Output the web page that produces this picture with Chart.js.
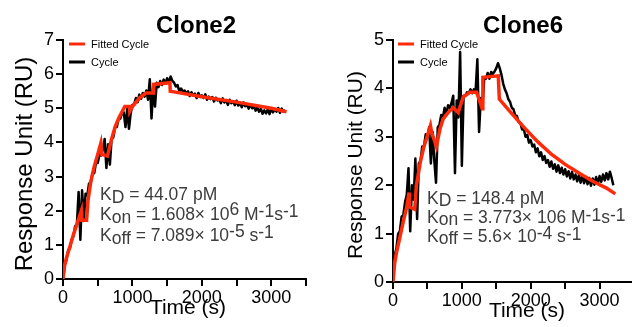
<!DOCTYPE html>
<html>
<head>
<meta charset="utf-8">
<title>Clone2 / Clone6 binding kinetics</title>
<script src="https://cdn.jsdelivr.net/npm/chart.js"></script>
<style>
    html, body { margin: 0; padding: 0; background: #fff; overflow: hidden; }
    body { width: 632px; height: 327px; position: relative; }
    canvas { position: absolute; top: 0; }
    #clone2Chart { left: 0; }
    #clone6Chart { left: 316px; }
</style>
</head>
<body>
<canvas id="clone2Chart" width="316" height="327"></canvas>
<canvas id="clone6Chart" width="330" height="327"></canvas>

<script>
// raw sensorgram is sampled every 25 s, starting at t = 0
const CYCLE_STEP = 25;

const clone2Cycle = [
    0, 0.4, 0.55, 0.85, 0.9, 1.15, 1.25, 1.55, 1.6, 2.55, 1.15, 2.6, 1.7, 2.5, 2.45, 2.8,
    2.8, 3.1, 3.1, 3.4, 3.4, 3.65, 3.62, 3.8, 4.1, 3.25, 3.95, 3.35, 4.1, 4.15, 4.45, 4.45,
    4.68, 4.7, 4.86, 4.88, 4.45, 4.98, 4.4, 4.85, 5.1, 5.12, 5.3, 5.18, 5.4, 5.28, 5.45, 5.34,
    5.52, 5.25, 5.85, 4.7, 5.65, 5.05, 5.75, 5.62, 5.8, 5.68, 5.84, 5.72, 5.88, 5.76, 5.93, 5.8,
    5.75, 5.64, 5.68, 5.5, 5.58, 5.49, 5.52, 5.44, 5.5, 5.36, 5.47, 5.38, 5.43, 5.3, 5.45, 5.33,
    5.38, 5.3, 5.41, 5.25, 5.34, 5.27, 5.33, 5.2, 5.31, 5.23, 5.26, 5.15, 5.29, 5.17, 5.24, 5.1,
    5.25, 5.15, 5.2, 5.09, 5.22, 5.08, 5.16, 5.03, 5.17, 5.06, 5.1, 4.99, 5.12, 5.0, 5.05, 4.93,
    5.03, 4.9, 4.98, 4.84, 4.94, 4.85, 4.97, 4.83, 4.99, 4.88, 4.98, 4.9, 5.01, 4.87, 4.99, 4.9,
    4.95
];
const clone2FitTime = [0, 25, 50, 100, 150, 200, 264, 270, 340, 360, 400, 450, 500, 545, 560, 640,
    700, 750, 800, 850, 890, 960, 965, 1000, 1100, 1200, 1300, 1305, 1540, 1545, 1600, 2000, 2500, 3000, 3220];
const clone2Fit = [0, 0.42, 0.62, 0.95, 1.3, 1.6, 2.0, 1.72, 1.72, 2.3, 2.85, 3.3, 3.65, 3.98, 3.65, 3.6,
    4.1, 4.45, 4.7, 4.9, 5.05, 5.05, 4.92, 5.05, 5.3, 5.45, 5.45, 5.7, 5.75, 5.5, 5.48, 5.34, 5.18, 5.0, 4.9];

const clone6Cycle = [
    0, 0.55, 0.7, 1.0, 1.05, 1.35, 1.38, 1.65, 1.8, 2.35, 1.05, 2.0, 1.7, 2.55, 1.3, 2.45,
    2.5, 2.8, 2.8, 3.05, 3.0, 3.2, 2.45, 3.1, 2.5, 2.05, 3.2, 3.25, 3.45, 3.4, 3.6, 3.45,
    3.65, 3.6, 3.7, 3.85, 2.25, 3.75, 3.4, 4.75, 2.4, 3.85, 3.85, 3.92, 3.9, 3.98, 3.9, 3.98,
    3.95, 4.6, 3.1, 3.8, 3.6, 4.22, 4.2, 4.32, 4.2, 4.34, 4.3, 4.35, 4.42, 4.52, 4.42, 4.28,
    4.1, 3.98, 3.9, 3.78, 3.72, 3.6, 3.57, 3.44, 3.43, 3.3, 3.28, 3.15, 3.16, 3.0, 3.04, 2.88,
    2.93, 2.8, 2.84, 2.68, 2.76, 2.6, 2.68, 2.52, 2.6, 2.46, 2.52, 2.38, 2.49, 2.34, 2.43, 2.28,
    2.41, 2.25, 2.36, 2.22, 2.33, 2.18, 2.29, 2.14, 2.27, 2.12, 2.22, 2.08, 2.21, 2.05, 2.19, 2.04,
    2.17, 2.02, 2.15, 1.99, 2.14, 2.01, 2.17, 2.03, 2.19, 2.07, 2.22, 2.1, 2.25, 2.12, 2.28, 2.15,
    2.0
];
const clone6FitTime = [0, 25, 50, 100, 150, 200, 233, 240, 316, 340, 400, 450, 500, 544, 560, 631,
    680, 728, 800, 874, 947, 1019, 1117, 1214, 1296, 1305, 1529, 1544, 1700, 1900, 2100, 2300, 2500,
    2700, 2900, 3100, 3228];
const clone6Fit = [0, 0.4, 0.6, 0.92, 1.25, 1.55, 1.85, 1.55, 1.5, 2.0, 2.5, 2.8, 3.02, 3.23, 3.1, 2.8,
    3.15, 3.37, 3.5, 3.6, 3.5, 3.82, 3.92, 3.92, 3.58, 4.23, 4.26, 3.78, 3.52, 3.2, 2.9, 2.64, 2.43,
    2.25, 2.08, 1.94, 1.82];

const xLabelTicks = [0, 1000, 2000, 3000];

const FONT = '"Liberation Sans", Arial, Helvetica, sans-serif';
const FIT_RED = '#ff2a0a';

// titles, axis titles, legend and the rate constants are painted here
const panelText = {
    id: 'panelText',
    afterDraw(chart, args, o) {
        const ctx = chart.ctx;
        ctx.save();
        ctx.fillStyle = '#000';
        ctx.textBaseline = 'alphabetic';

        ctx.textAlign = 'center';
        ctx.font = 'bold 24px ' + FONT;
        ctx.fillText(o.title, o.titleX, 33);

        ctx.font = o.xTitleSize + 'px ' + FONT;
        ctx.fillText('Time (s)', o.xTitleX, o.xTitleY);

        ctx.save();
        ctx.translate(o.yTitleX, o.yTitleY);
        ctx.rotate(-Math.PI / 2);
        ctx.font = o.yTitleSize + 'px ' + FONT;
        ctx.fillText('Response Unit (RU)', 0, 0);
        ctx.restore();

        // legend inside the plot, top left
        ctx.textAlign = 'left';
        ctx.font = '11px ' + FONT;
        chart.data.datasets.forEach((ds, i) => {
            const y = 44 + i * 18;
            ctx.strokeStyle = ds.borderColor;
            ctx.lineWidth = 3;
            ctx.beginPath();
            ctx.moveTo(o.legendX, y);
            ctx.lineTo(o.legendX + 16, y);
            ctx.stroke();
            ctx.fillText(ds.label, o.legendX + 22, y + 4);
        });

        // kinetic constants with sub/superscripts
        ctx.fillStyle = '#3c3c3c';
        o.constants.forEach((line, i) => {
            let x = o.constX;
            const y = o.constY[i];
            line.forEach(part => {
                ctx.font = (part.s || 17.5) + 'px ' + FONT;
                ctx.fillText(part.t, x, y + (part.dy || 0));
                x += ctx.measureText(part.t).width;
            });
        });
        ctx.restore();
    }
};

function makeChart(id, cycle, fitTime, fit, yMax, padRight, xAxisH, yAxisW, text) {
    return new Chart(document.getElementById(id), {
        type: 'line',
        data: {
            datasets: [{
                label: 'Fitted Cycle',
                data: fitTime.map((t, i) => ({ x: t, y: fit[i] })),
                borderColor: FIT_RED,
                borderWidth: 3.5,
                pointRadius: 0,
                tension: 0,
                order: 0
            }, {
                label: 'Cycle',
                data: cycle.map((v, i) => ({ x: i * CYCLE_STEP, y: v })),
                borderColor: '#000',
                borderWidth: 2.5,
                borderJoinStyle: 'round',
                pointRadius: 0,
                tension: 0,
                order: 1
            }]
        },
        options: {
            responsive: false,
            animation: false,
            layout: { padding: { top: 40, right: padRight, left: 0, bottom: 0 } },
            plugins: {
                legend: { display: false },
                tooltip: { enabled: false },
                panelText: text
            },
            scales: {
                x: {
                    type: 'linear',
                    min: 0,
                    max: 3500,
                    afterFit: s => { s.height = xAxisH; },
                    afterBuildTicks: s => {
                        s.ticks = [0, 500, 1000, 1500, 2000, 2500, 3000, 3500].map(v => ({ value: v }));
                    },
                    ticks: {
                        autoSkip: false,
                        maxRotation: 0,
                        color: '#000',
                        padding: 1,
                        font: { family: FONT, size: 18 },
                        callback: v => xLabelTicks.includes(v) ? String(v) : ''
                    },
                    grid: { drawOnChartArea: false, color: '#000', lineWidth: 2, tickLength: 7 },
                    border: { color: '#000', width: 2 }
                },
                y: {
                    min: 0,
                    max: yMax,
                    afterFit: s => { s.width = yAxisW; },
                    ticks: {
                        stepSize: 1,
                        color: '#000',
                        padding: 2,
                        font: { family: FONT, size: 18 }
                    },
                    grid: { drawOnChartArea: false, color: '#000', lineWidth: 2, tickLength: 7 },
                    border: { color: '#000', width: 2 }
                }
            }
        },
        plugins: [panelText]
    });
}

window.onload = () => {
    makeChart('clone2Chart', clone2Cycle, clone2FitTime, clone2Fit, 7, 10, 48, 63, {
        title: 'Clone2', titleX: 196,
        xTitleX: 188, xTitleY: 314, xTitleSize: 21,
        yTitleX: 32, yTitleY: 164, yTitleSize: 24,
        legendX: 69,
        constX: 100, constY: [200, 220, 241],
        constants: [
            [{ t: 'K' }, { t: 'D', dy: 3 }, { t: ' = 44.07 pM' }],
            [{ t: 'K' }, { t: 'on', dy: 3 }, { t: ' = 1.608\u00d7 10' }, { t: '6', dy: -5 },
             { t: ' M' }, { t: '-1', dy: -3 }, { t: 's' }, { t: '-1', dy: -3 }],
            [{ t: 'K' }, { t: 'off', dy: 3 }, { t: ' = 7.089\u00d7 10' }, { t: '-5', dy: -4 },
             { t: ' s' }, { t: '-1', dy: -3 }]
        ]
    });
    makeChart('clone6Chart', clone6Cycle, clone6FitTime, clone6Fit, 5, 12, 45, 77, {
        title: 'Clone6', titleX: 207,
        xTitleX: 211, xTitleY: 317, xTitleSize: 21,
        yTitleX: 46, yTitleY: 165, yTitleSize: 21,
        legendX: 82,
        constX: 111, constY: [204, 223, 242],
        constants: [
            [{ t: 'K' }, { t: 'D', dy: 2 }, { t: ' = 148.4 pM' }],
            [{ t: 'K' }, { t: 'on', dy: 2 }, { t: ' = 3.773\u00d7 106 M' }, { t: '-1', dy: -2 },
             { t: 's' }, { t: '-1', dy: -2 }],
            [{ t: 'K' }, { t: 'off', dy: 2 }, { t: ' = 5.6\u00d7 10' }, { t: '-4', dy: -3 },
             { t: ' s' }, { t: '-1', dy: -2 }]
        ]
    });
};
</script>
</body>
</html>
